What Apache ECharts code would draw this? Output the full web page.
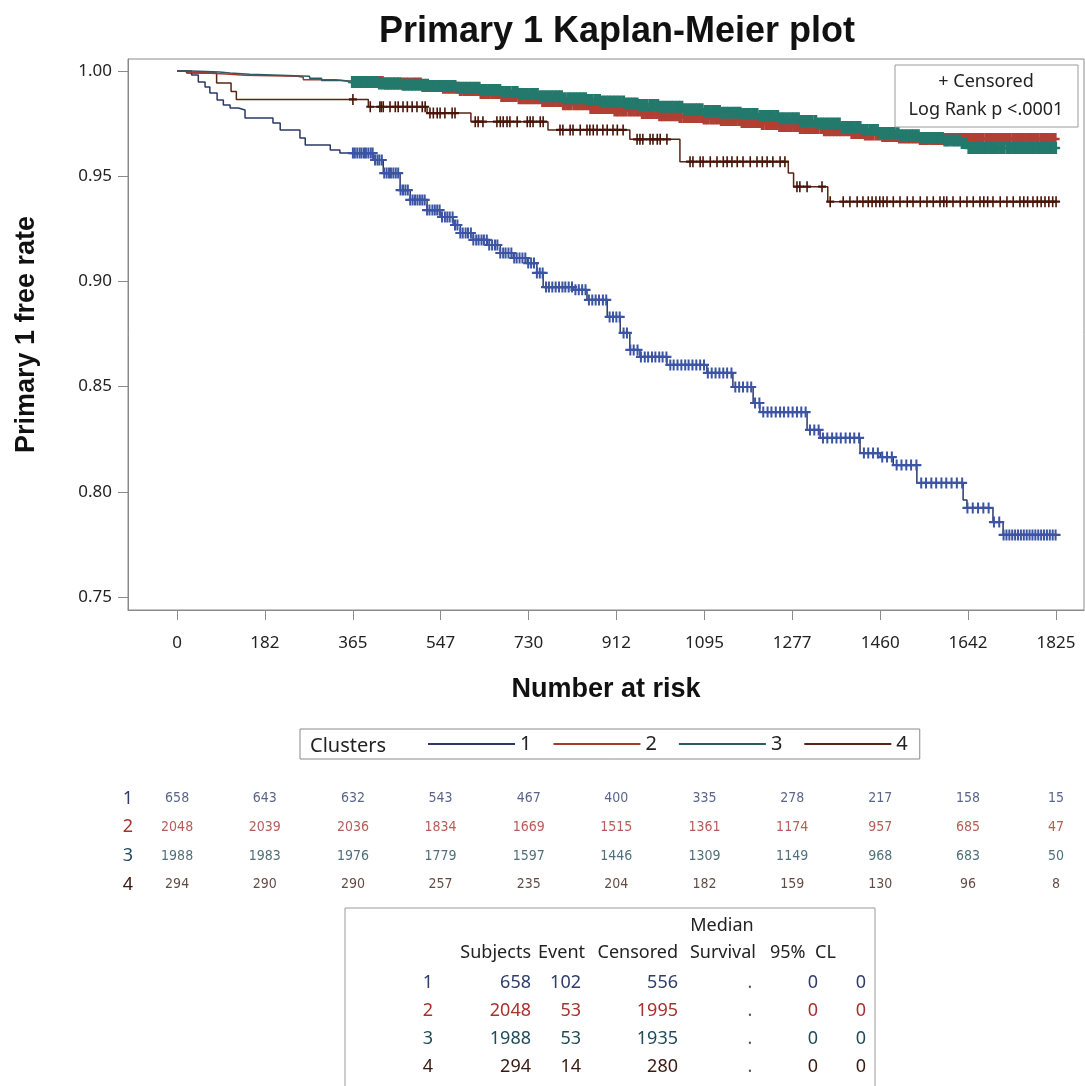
<!DOCTYPE html>
<html>
<head>
<meta charset="utf-8">
<script src="https://cdn.jsdelivr.net/npm/echarts@6/dist/echarts.min.js"></script>
<style>
html, body { margin: 0; padding: 0; background: #fff; }
#km { width: 1085px; height: 1086px; }
</style>
</head>
<body>
<div id="km"></div>
<script>
// x ticks / number-at-risk time points (days)
var riskDays = [0, 182, 365, 547, 730, 912, 1095, 1277, 1460, 1642, 1825]
var yTicks = [0.75, 0.80, 0.85, 0.90, 0.95, 1.00]
var clusters = ['1', '2', '3', '4']

// KM step points [day, survival after the step]
var km1 = [[0, 1.0], [30, 0.9981], [44, 0.9948], [58, 0.9924], [68, 0.9895], [83, 0.9862], [96, 0.9838], [110, 0.9824], [127, 0.9815], [141, 0.9777], [199, 0.9753], [214, 0.9720], [255, 0.9682], [266, 0.9648], [318, 0.9625], [338, 0.9610], [407, 0.9577], [428, 0.9515], [463, 0.9434], [484, 0.9387], [519, 0.9339], [546, 0.9306], [573, 0.9268], [588, 0.9230], [615, 0.9197], [644, 0.9173], [671, 0.9135], [698, 0.9111], [727, 0.9087], [747, 0.9040], [760, 0.8973], [822, 0.8960], [851, 0.8912], [893, 0.8831], [920, 0.8755], [940, 0.8674], [961, 0.8641], [1017, 0.8603], [1100, 0.8565], [1154, 0.8498], [1196, 0.8422], [1210, 0.8379], [1308, 0.8294], [1335, 0.8256], [1418, 0.8184], [1460, 0.8165], [1487, 0.8127], [1536, 0.8042], [1632, 0.7961], [1640, 0.7923], [1694, 0.7856], [1715, 0.7795], [1825, 0.7795]]
var km2 = [[0, 1.0], [12, 0.9995], [25, 0.9990], [60, 0.9985], [110, 0.9980], [140, 0.9975], [250, 0.9970], [262, 0.9958], [330, 0.9950], [365, 0.9948], [430, 0.9940], [505, 0.9929], [550, 0.9920], [588, 0.9910], [630, 0.9895], [671, 0.9881], [710, 0.9870], [754, 0.9857], [800, 0.9842], [857, 0.9824], [910, 0.9812], [961, 0.9800], [1000, 0.9790], [1044, 0.9781], [1090, 0.9774], [1127, 0.9767], [1170, 0.9757], [1210, 0.9748], [1250, 0.9738], [1293, 0.9729], [1340, 0.9718], [1397, 0.9705], [1430, 0.9698], [1460, 0.9691], [1500, 0.9684], [1543, 0.9677], [1825, 0.9677]]
var km3 = [[0, 1.0], [30, 0.9995], [88, 0.9990], [110, 0.9985], [150, 0.9980], [215, 0.9975], [275, 0.9965], [300, 0.9955], [340, 0.9950], [365, 0.9948], [420, 0.9940], [463, 0.9935], [520, 0.9929], [581, 0.9920], [630, 0.9910], [671, 0.9900], [710, 0.9891], [754, 0.9880], [800, 0.9870], [850, 0.9862], [878, 0.9855], [930, 0.9845], [960, 0.9838], [1003, 0.9830], [1050, 0.9818], [1090, 0.9810], [1127, 0.9802], [1170, 0.9795], [1210, 0.9786], [1250, 0.9775], [1293, 0.9762], [1330, 0.9750], [1377, 0.9734], [1420, 0.9720], [1460, 0.9705], [1500, 0.9695], [1543, 0.9682], [1590, 0.9670], [1626, 0.9658], [1640, 0.9634], [1825, 0.9634]]
var km4 = [[0, 1.0], [20, 0.9990], [82, 0.9943], [112, 0.9902], [123, 0.9865], [397, 0.9830], [519, 0.9800], [610, 0.9759], [770, 0.9720], [940, 0.9675], [1044, 0.9569], [1269, 0.9515], [1280, 0.9450], [1351, 0.9379], [1825, 0.9379]]

// censoring times (days)
var cens1 = [365, 369, 374, 379, 383, 388, 392, 397, 402, 406, 411, 416, 420, 425, 430, 435, 440, 444, 449, 454, 459, 464, 469, 474, 479, 484, 489, 494, 499, 504, 509, 514, 519, 524, 530, 535, 540, 545, 550, 556, 561, 566, 572, 577, 582, 588, 593, 599, 604, 610, 615, 621, 626, 632, 637, 643, 648, 654, 660, 665, 671, 677, 682, 688, 694, 700, 705, 711, 717, 723, 729, 735, 741, 747, 753, 759, 766, 772, 779, 786, 793, 800, 806, 813, 820, 827, 834, 841, 848, 855, 862, 869, 876, 884, 891, 898, 905, 912, 919, 927, 934, 941, 948, 956, 963, 971, 978, 986, 993, 1001, 1008, 1016, 1024, 1031, 1039, 1047, 1055, 1062, 1070, 1078, 1086, 1094, 1102, 1110, 1118, 1126, 1134, 1142, 1151, 1159, 1167, 1175, 1184, 1192, 1200, 1209, 1217, 1226, 1234, 1243, 1252, 1260, 1269, 1278, 1287, 1296, 1305, 1314, 1323, 1332, 1341, 1350, 1360, 1369, 1378, 1388, 1397, 1406, 1416, 1426, 1435, 1445, 1455, 1464, 1474, 1484, 1494, 1504, 1514, 1524, 1535, 1545, 1555, 1566, 1576, 1587, 1597, 1608, 1619, 1630, 1641, 1652, 1663, 1674, 1685, 1696, 1707, 1716, 1722, 1728, 1734, 1740, 1746, 1752, 1758, 1764, 1770, 1776, 1782, 1788, 1794, 1800, 1806, 1812, 1818, 1824]
var cens2 = [368, 375, 383, 390, 397, 404, 411, 418, 425, 433, 440, 447, 454, 461, 468, 475, 482, 490, 497, 504, 511, 518, 525, 532, 540, 547, 554, 561, 568, 575, 582, 589, 597, 604, 611, 618, 625, 632, 639, 646, 654, 661, 668, 675, 682, 689, 696, 703, 711, 718, 725, 732, 739, 746, 753, 760, 768, 775, 782, 789, 796, 803, 810, 817, 825, 832, 839, 846, 853, 860, 867, 874, 882, 889, 896, 903, 910, 917, 924, 931, 939, 946, 953, 960, 967, 974, 981, 988, 996, 1003, 1010, 1017, 1024, 1031, 1038, 1045, 1053, 1060, 1067, 1074, 1081, 1088, 1095, 1102, 1110, 1117, 1124, 1131, 1138, 1145, 1152, 1159, 1167, 1174, 1181, 1188, 1195, 1202, 1209, 1216, 1224, 1231, 1238, 1245, 1252, 1259, 1266, 1273, 1281, 1288, 1295, 1302, 1309, 1316, 1323, 1330, 1338, 1345, 1352, 1359, 1366, 1373, 1380, 1387, 1395, 1402, 1409, 1416, 1423, 1430, 1437, 1444, 1452, 1459, 1466, 1473, 1480, 1487, 1494, 1501, 1509, 1516, 1523, 1530, 1537, 1544, 1551, 1558, 1566, 1573, 1580, 1587, 1594, 1601, 1608, 1615, 1623, 1630, 1637, 1644, 1651, 1658, 1665, 1672, 1680, 1687, 1694, 1701, 1708, 1715, 1722, 1729, 1737, 1744, 1751, 1758, 1765, 1772, 1779, 1786, 1794, 1801, 1808, 1815, 1822]
var cens3 = [365, 372, 379, 386, 392, 399, 406, 414, 421, 428, 435, 441, 448, 455, 462, 470, 477, 484, 491, 498, 505, 512, 519, 527, 534, 541, 548, 555, 562, 569, 576, 584, 591, 598, 605, 612, 619, 626, 633, 641, 648, 655, 662, 669, 676, 683, 690, 698, 705, 712, 719, 726, 733, 740, 747, 755, 762, 769, 776, 783, 790, 797, 804, 812, 819, 826, 833, 840, 847, 854, 861, 869, 876, 883, 890, 897, 904, 911, 918, 926, 933, 940, 947, 954, 961, 968, 975, 983, 990, 997, 1004, 1011, 1018, 1025, 1032, 1040, 1047, 1054, 1061, 1068, 1075, 1082, 1089, 1097, 1104, 1111, 1118, 1125, 1132, 1139, 1146, 1154, 1161, 1168, 1175, 1182, 1189, 1196, 1203, 1211, 1218, 1225, 1232, 1239, 1246, 1253, 1260, 1268, 1275, 1282, 1289, 1296, 1303, 1310, 1317, 1325, 1332, 1339, 1346, 1353, 1360, 1367, 1374, 1382, 1389, 1396, 1403, 1410, 1417, 1424, 1431, 1439, 1446, 1453, 1460, 1467, 1474, 1481, 1488, 1496, 1503, 1510, 1517, 1524, 1531, 1538, 1545, 1553, 1560, 1567, 1574, 1581, 1588, 1595, 1602, 1610, 1617, 1624, 1631, 1638, 1645, 1652, 1659, 1667, 1674, 1681, 1688, 1695, 1702, 1709, 1716, 1724, 1731, 1738, 1745, 1752, 1759, 1766, 1773, 1781, 1788, 1795, 1802, 1809, 1816, 1823]
var cens4 = [365, 401, 421, 424, 428, 442, 453, 459, 469, 478, 488, 498, 509, 515, 525, 532, 540, 546, 556, 571, 577, 619, 625, 635, 664, 671, 677, 685, 691, 706, 727, 733, 739, 754, 760, 795, 801, 816, 822, 837, 851, 857, 864, 872, 884, 893, 905, 914, 926, 955, 961, 967, 982, 988, 997, 1003, 1017, 1065, 1071, 1086, 1092, 1107, 1121, 1134, 1142, 1152, 1163, 1175, 1190, 1204, 1215, 1225, 1237, 1252, 1262, 1287, 1293, 1308, 1339, 1356, 1383, 1397, 1412, 1424, 1435, 1443, 1451, 1459, 1466, 1474, 1487, 1501, 1516, 1528, 1543, 1557, 1570, 1584, 1592, 1598, 1611, 1626, 1640, 1653, 1667, 1675, 1683, 1694, 1709, 1723, 1736, 1750, 1758, 1766, 1777, 1786, 1794, 1802, 1810, 1818, 1825]

// number at risk
var risk1 = [658, 643, 632, 543, 467, 400, 335, 278, 217, 158, 15]
var risk2 = [2048, 2039, 2036, 1834, 1669, 1515, 1361, 1174, 957, 685, 47]
var risk3 = [1988, 1983, 1976, 1779, 1597, 1446, 1309, 1149, 968, 683, 50]
var risk4 = [294, 290, 290, 257, 235, 204, 182, 159, 130, 96, 8]

// summary table
var subjects = [658, 2048, 1988, 294]
var events = [102, 53, 53, 14]
var censoredN = [556, 1995, 1935, 280]

var lineColors = ['#2b3867', '#a8392f', '#2c5a66', '#5a2414']
var markColors = ['#3b54a3', '#b23f33', '#23796c', '#4a1508']
var textColors = ['#2e3d6b', '#a5332c', '#1f4b5a', '#3a1a10']

var plusThin = 'path://M4,0H6V4H10V6H6V10H4V6H0V4H4Z'
var plusBold = 'path://M3,0H7V4H10V6H7V10H3V6H0V4H3Z'

function survAt (km, t) {
  var s = km[0][1]
  for (var i = 0; i < km.length; i++) {
    if (km[i][0] <= t) s = km[i][1]
  }
  return s
}

var kms = [km1, km2, km3, km4]
var censes = [cens1, cens2, cens3, cens4]
var risks = [risk1, risk2, risk3, risk4]
var markSizes = [[10, 11], [10, 12], [10, 12], [8, 11]]
var markPaths = [plusThin, plusBold, plusBold, plusThin]

var series = []
// draw order: 1, 4, 2, 3 (teal on top of red)
var order = [0, 3, 1, 2]
order.forEach(function (k) {
  series.push({
    name: clusters[k],
    type: 'line',
    step: 'end',
    color: lineColors[k],
    showSymbol: false,
    symbol: 'none',
    lineStyle: { width: 1.5, color: lineColors[k] },
    data: kms[k],
    z: 2
  })
  series.push({
    name: 'cens' + clusters[k],
    type: 'scatter',
    symbol: markPaths[k],
    symbolSize: markSizes[k],
    itemStyle: { color: markColors[k], opacity: 1 },
    data: censes[k].map(function (t) { return [t, survAt(kms[k], t)] }),
    z: 3
  })
})

// number-at-risk table drawn on a second grid sharing the time scale
risks.forEach(function (r, k) {
  series.push({
    name: 'risk' + clusters[k],
    type: 'scatter',
    xAxisIndex: 1,
    yAxisIndex: 1,
    symbolSize: 1,
    itemStyle: { color: 'rgba(0,0,0,0)' },
    label: {
      show: true,
      position: 'inside',
      formatter: function (p) { return p.value[2] },
      fontFamily: 'DejaVu Sans Condensed, Liberation Sans Narrow, sans-serif',
      fontSize: 14,
      color: textColors[k]
    },
    data: r.map(function (n, i) { return [riskDays[i], clusters[k], n] })
  })
})

var font = 'Noto Sans, Open Sans, sans-serif'
var graphics = []
// censored / log rank box
graphics.push({ type: 'rect', shape: { x: 895, y: 65, width: 183, height: 62 }, style: { fill: '#fff', stroke: '#9a9a9a', lineWidth: 1 }, z: 10 })
graphics.push({ type: 'text', x: 986, y: 82, style: { text: '+ Censored', font: '18px ' + font, fill: '#222', align: 'center', verticalAlign: 'middle' }, z: 11 })
graphics.push({ type: 'text', x: 986, y: 110, style: { text: 'Log Rank p <.0001', font: '18px ' + font, fill: '#222', align: 'center', verticalAlign: 'middle' }, z: 11 })
// "Clusters" label inside the legend box
graphics.push({ type: 'text', x: 310, y: 746, style: { text: 'Clusters', font: '20px ' + font, fill: '#222', verticalAlign: 'middle' } })

// summary table
graphics.push({ type: 'rect', shape: { x: 345, y: 908, width: 530, height: 200 }, style: { fill: 'none', stroke: '#9a9a9a', lineWidth: 1 } })
function cell (txt, x, y, align, color) {
  graphics.push({ type: 'text', x: x, y: y, style: { text: String(txt), font: '18px ' + font, fill: color || '#222', align: align, verticalAlign: 'middle' } })
}
cell('Median', 722, 926, 'center')
cell('Subjects', 531, 953, 'right')
cell('Event', 585, 953, 'right')
cell('Censored', 678, 953, 'right')
cell('Survival', 756, 953, 'right')
cell('95%', 770, 953, 'left')
cell('CL', 815, 953, 'left')
var rowY = [983, 1011, 1039, 1067]
clusters.forEach(function (c, k) {
  var col = textColors[k]
  cell(c, 428, rowY[k], 'center', col)
  cell(subjects[k], 531, rowY[k], 'right', col)
  cell(events[k], 581, rowY[k], 'right', col)
  cell(censoredN[k], 678, rowY[k], 'right', col)
  cell('.', 750, rowY[k], 'center', '#555')
  cell(0, 818, rowY[k], 'right', col)
  cell(0, 866, rowY[k], 'right', col)
})

var chart = echarts.init(document.getElementById('km'))
chart.setOption({
  animation: false,
  backgroundColor: '#fff',
  title: {
    text: 'Primary 1 Kaplan-Meier plot',
    left: 612,
    top: 9,
    textAlign: 'center',
    textStyle: { fontFamily: 'Liberation Sans, Arial, sans-serif', fontWeight: 'bold', fontSize: 36, color: '#111' }
  },
  legend: {
    data: clusters,
    left: 300,
    top: 729,
    selectedMode: false,
    icon: 'rect',
    itemWidth: 87,
    itemHeight: 2,
    itemGap: 22,
    padding: [5, 12, 5, 128],
    borderColor: '#8a8a8a',
    borderWidth: 1,
    textStyle: { fontFamily: font, fontSize: 20, color: '#222' }
  },
  grid: [
    { left: 128, right: 1, top: 59, bottom: 476, show: true, borderColor: '#8a8a8a', borderWidth: 1 },
    { left: 128, right: 1, top: 784, height: 115 }
  ],
  xAxis: [{
    type: 'value',
    min: -102,
    max: 1883,
    name: 'Number at risk',
    nameLocation: 'middle',
    nameGap: 66,
    nameTextStyle: { fontFamily: 'Liberation Sans, Arial, sans-serif', fontWeight: 'bold', fontSize: 27, color: '#111' },
    axisLine: { onZero: false, lineStyle: { color: '#8a8a8a' } },
    axisTick: { show: true, length: 10, customValues: riskDays, lineStyle: { color: '#8a8a8a' } },
    axisLabel: { customValues: riskDays, margin: 25, fontFamily: font, fontSize: 17, color: '#222', formatter: function (v) { return String(v) } },
    splitLine: { show: false }
  }, {
    type: 'value',
    gridIndex: 1,
    min: -102,
    max: 1883,
    show: false
  }],
  yAxis: [{
    type: 'value',
    min: 0.7438,
    max: 1.0057,
    name: 'Primary 1 free rate',
    nameLocation: 'middle',
    nameGap: 88,
    nameRotate: 90,
    nameTextStyle: { fontFamily: 'Liberation Sans, Arial, sans-serif', fontWeight: 'bold', fontSize: 27, color: '#111' },
    axisLine: { show: true, onZero: false, lineStyle: { color: '#8a8a8a' } },
    axisTick: { show: true, length: 10, customValues: yTicks, lineStyle: { color: '#8a8a8a' } },
    axisLabel: { customValues: yTicks, margin: 16, fontFamily: font, fontSize: 17, color: '#222', formatter: function (v) { return v.toFixed(2) } },
    splitLine: { show: false }
  }, {
    type: 'category',
    gridIndex: 1,
    data: clusters,
    inverse: true,
    axisLine: { show: false },
    axisTick: { show: false },
    axisLabel: {
      margin: 0,
      align: 'center',
      fontFamily: font,
      fontSize: 18,
      color: function (v, i) { return textColors[i] }
    },
    splitLine: { show: false }
  }],
  series: series,
  graphic: graphics
})
</script>
</body>
</html>
